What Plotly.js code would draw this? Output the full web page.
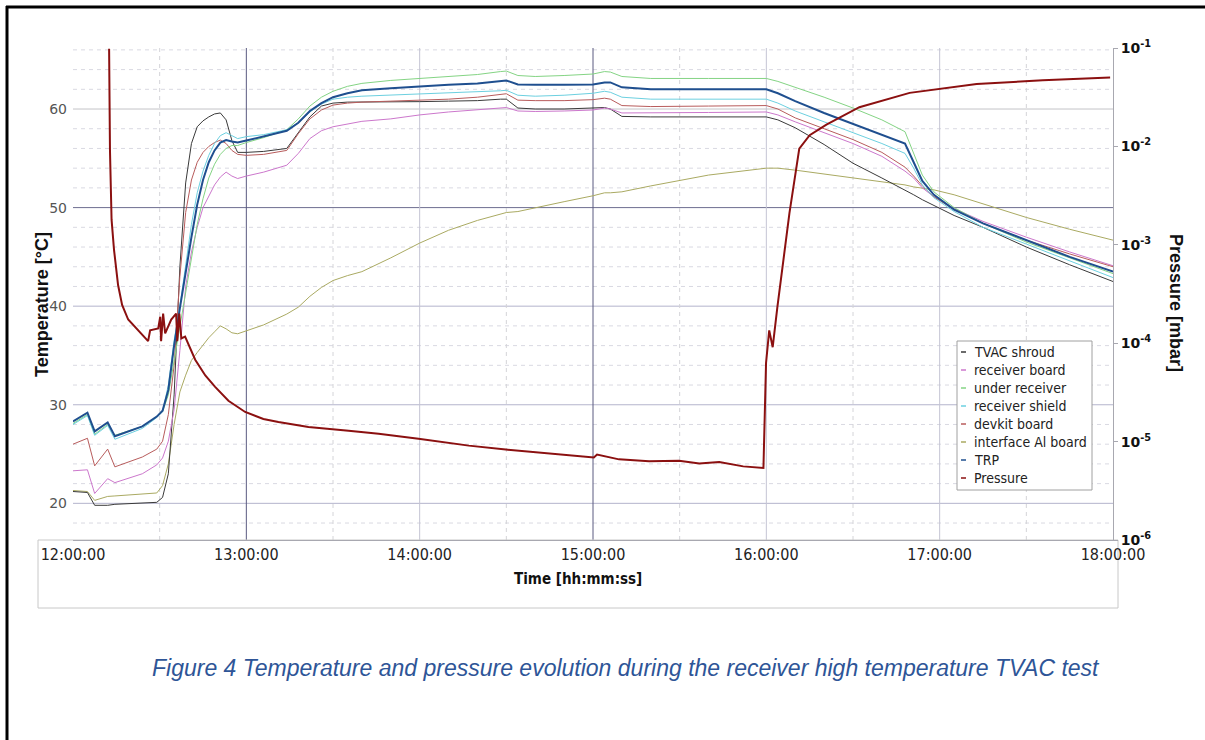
<!DOCTYPE html>
<html>
<head>
<meta charset="utf-8">
<script src="https://cdn.plot.ly/plotly-3.0.1.min.js"></script>
<style>
  html, body { margin: 0; padding: 0; background: #ffffff; }
  #chart { width: 1205px; height: 740px; }
</style>
</head>
<body>
<div id="chart"></div>
<script>
// ---------------- DATA ----------------
// time in minutes after 12:00:00
const timeMin = [0,5,7.5,12,14.5,24,29,31,33,35,37,39,41,43,45,47,49,51,53,55,57,60,66,74,78,82,86,90,95,100,110,120,130,140,148,150,154,160,170,180,184,186,190,200,220,240,244,250,260,270,280,288,291,294,298,305,315,330,345,360];

const tvacShroud = [21.2,21.1,19.8,19.8,19.9,20.0,20.1,20.6,23.0,31.0,44.0,52.5,56.5,58.2,58.8,59.2,59.5,59.6,58.9,56.8,55.6,55.6,55.7,56.0,57.6,59.2,60.3,60.6,60.7,60.7,60.75,60.75,60.8,60.85,61.0,61.0,60.1,60.0,60.0,60.1,60.15,60.0,59.25,59.2,59.2,59.2,58.9,58.1,56.4,54.5,53.0,51.8,51.3,50.8,50.2,49.2,48.0,46.0,44.2,42.5];

const receiverBoard = [23.3,23.4,21.0,22.5,22.1,23.0,23.9,24.6,26.3,29.5,35.5,42.0,45.5,48.0,50.0,51.2,52.3,53.1,53.6,53.2,52.95,53.2,53.6,54.3,55.5,57.0,57.8,58.2,58.5,58.75,59.0,59.4,59.7,59.9,60.1,60.15,59.8,59.75,59.8,59.9,60.1,60.0,59.6,59.6,59.65,59.7,59.4,58.7,57.6,56.5,55.2,53.7,53.0,52.0,51.1,49.9,48.6,47.0,45.5,44.1];

const underReceiver = [28.1,29.0,27.0,28.0,26.9,27.8,28.8,29.3,31.0,34.5,37.8,41.5,45.0,48.3,50.9,53.0,54.4,55.4,56.0,56.3,56.3,56.6,57.1,57.9,59.0,60.3,61.2,61.8,62.3,62.6,62.9,63.1,63.3,63.5,63.8,63.85,63.4,63.3,63.4,63.55,63.8,63.75,63.3,63.1,63.1,63.1,62.8,62.2,61.2,60.1,58.9,57.7,55.5,53.3,51.6,50.0,48.4,46.5,44.9,43.3];

const receiverShield = [28.0,28.9,26.9,27.9,26.5,27.6,28.7,29.3,32.0,36.5,40.0,44.0,48.3,51.5,53.7,55.3,56.5,57.3,57.6,57.3,57.0,57.2,57.4,57.9,58.6,59.7,60.5,61.0,61.2,61.3,61.4,61.5,61.6,61.7,61.85,61.9,61.4,61.3,61.4,61.6,61.8,61.7,61.2,61.0,61.0,61.0,60.6,59.8,58.7,57.6,56.5,55.5,54.0,52.3,51.0,49.6,48.0,46.3,44.6,42.9];

const devkitBoard = [26.0,26.6,23.8,25.5,23.7,24.7,25.5,26.3,29.0,34.0,43.0,49.5,52.8,54.6,55.6,56.2,56.6,56.85,56.5,55.8,55.4,55.3,55.4,55.8,57.5,59.0,59.9,60.4,60.6,60.7,60.8,60.9,61.0,61.2,61.5,61.55,60.9,60.85,60.85,60.95,61.1,61.0,60.35,60.25,60.3,60.35,60.0,59.1,58.0,56.9,55.6,54.1,53.2,52.2,51.1,49.8,48.4,46.7,45.3,44.0];

const interfaceAlBoard = [21.3,21.2,20.3,20.7,20.75,20.9,21.05,21.8,24.0,28.0,31.3,33.0,34.5,35.3,36.1,36.8,37.4,38.0,37.7,37.3,37.2,37.5,38.1,39.2,39.9,41.0,41.9,42.6,43.1,43.5,44.9,46.4,47.7,48.7,49.4,49.5,49.6,50.0,50.6,51.2,51.5,51.5,51.6,52.2,53.3,54.0,54.0,53.8,53.4,53.0,52.6,52.3,52.1,52.0,51.8,51.3,50.4,49.0,47.8,46.7];

const trp = [28.3,29.2,27.3,28.2,26.8,27.8,28.8,29.4,31.5,36.0,39.8,43.5,47.0,50.3,52.8,54.6,55.8,56.6,56.85,56.7,56.6,56.8,57.2,57.8,58.6,59.8,60.6,61.2,61.6,61.9,62.1,62.3,62.45,62.6,62.85,62.9,62.5,62.45,62.45,62.5,62.7,62.7,62.2,62.0,62.0,62.0,61.6,60.8,59.6,58.5,57.4,56.5,54.6,52.7,51.3,49.8,48.4,46.7,45.0,43.5];

// pressure [mbar]
const pressTime = [12.5,12.8,13.35,14.2,15.6,17.0,19.1,22.5,26.0,26.7,29.5,30.2,30.5,31.2,31.9,34.0,35.7,36.1,36.8,37.5,38.8,42.3,45.8,49.2,53.8,59.6,65.9,71.1,81.5,95.4,105.8,119.6,137.0,149.8,164.7,180.3,181.4,189,199.4,209.8,216.8,223.7,232,239.0,239.9,241.0,242.2,243.8,248.0,249.7,251.4,255,260.8,272.2,289.6,312.8,335.7,359.0];
const pressure = [0.098,9.1e-3,1.8e-3,8.9e-4,3.9e-4,2.45e-4,1.74e-4,1.35e-4,1.05e-4,1.35e-4,1.41e-4,1.86e-4,1.05e-4,2.0e-4,1.26e-4,1.74e-4,2.0e-4,1.05e-4,2.0e-4,1.12e-4,1.17e-4,6.8e-5,4.7e-5,3.6e-5,2.6e-5,2.0e-5,1.7e-5,1.58e-5,1.41e-5,1.29e-5,1.2e-5,1.07e-5,9.1e-6,8.3e-6,7.6e-6,6.9e-6,7.4e-6,6.6e-6,6.3e-6,6.4e-6,6.0e-6,6.2e-6,5.6e-6,5.4e-6,6.3e-5,1.35e-4,9.1e-5,2.3e-4,2.1e-3,4.6e-3,9.5e-3,1.3e-2,1.66e-2,2.5e-2,3.5e-2,4.3e-2,4.7e-2,5.0e-2];

const seriesNames = ["TVAC shroud","receiver board","under receiver","receiver shield","devkit board","interface Al board","TRP","Pressure"];
const seriesColors = ["#3a3a3a","#cc77cc","#84d484","#6cd0e0","#b85c5c","#aaaa62","#1f4f8f","#8b1010"];
const seriesWidths = [1,1,1,1,1,1,2,2];
const tempSeries = [tvacShroud, receiverBoard, underReceiver, receiverShield, devkitBoard, interfaceAlBoard, trp];

const xTickVals = [0,60,120,180,240,300,360];
const xTickText = ["12:00:00","13:00:00","14:00:00","15:00:00","16:00:00","17:00:00","18:00:00"];
const yTickVals = [20,30,40,50,60];
const pTickVals = [1e-6,1e-5,1e-4,1e-3,1e-2,1e-1];
const pTickText = ["10<sup>-6</sup>","10<sup>-5</sup>","10<sup>-4</sup>","10<sup>-3</sup>","10<sup>-2</sup>","10<sup>-1</sup>"];

// ---------------- LAYOUT HELPERS ----------------
const W = 1205, H = 740;
const L = 73, R = 1113, T = 48, B = 540;
const px = v => (v - L) / (R - L);
const py = v => (B - v) / (B - T);

const traces = [];
const order = [5, 0, 1, 4, 2, 3, 6];
order.forEach(i => {
  traces.push({
    x: timeMin, y: tempSeries[i], name: seriesNames[i], type: 'scatter', mode: 'lines',
    line: {color: seriesColors[i], width: seriesWidths[i]}, yaxis: 'y', showlegend: false, hoverinfo: 'skip'
  });
});
traces.push({
  x: pressTime, y: pressure, name: seriesNames[7], type: 'scatter', mode: 'lines',
  line: {color: seriesColors[7], width: 2}, yaxis: 'y2', showlegend: false, hoverinfo: 'skip'
});

const shapes = [];
for (let v = 18; v <= 66; v += 2) {
  if (v % 10 === 0) continue;
  shapes.push({type:'line', xref:'paper', yref:'y', x0:0, x1:1, y0:v, y1:v, layer:'below',
    line:{color:'#d9d9e2', width:1, dash:'4px,4px'}});
}
yTickVals.forEach(v => {
  shapes.push({type:'line', xref:'paper', yref:'y', x0:0, x1:1, y0:v, y1:v, layer:'below',
    line:{color: v === 50 ? '#6e6e90' : (v === 60 ? '#c4c4c8' : '#b4b4cc'), width:1}});
});
for (let m = 30; m < 360; m += 30) {
  let style;
  if (m === 60 || m === 180) style = {color:'#5a5a80', width:1};
  else if (m % 60 === 0) style = {color:'#c4c4d4', width:1};
  else style = {color:'#d4d4d8', width:1, dash:'4px,4px'};
  shapes.push({type:'line', xref:'x', yref:'paper', x0:m, x1:m, y0:0, y1:1, layer:'below', line:style});
}
shapes.push({type:'rect', xref:'paper', yref:'paper', x0:px(38), x1:px(1118), y0:py(540), y1:py(608),
  line:{color:'#c8c8c8', width:1}, fillcolor:'rgba(0,0,0,0)', layer:'below'});
// outer black frame: top and left edges
shapes.push({type:'line', xref:'paper', yref:'paper', x0:px(6), x1:px(1210), y0:py(7), y1:py(7),
  line:{color:'#000000', width:3}});
shapes.push({type:'line', xref:'paper', yref:'paper', x0:px(7), x1:px(7), y0:py(6), y1:py(745),
  line:{color:'#000000', width:3}});

const annotations = [];
shapes.push({type:'rect', xref:'paper', yref:'paper', x0:px(957), x1:px(1092), y0:py(490), y1:py(341),
  line:{color:'#a0a0a0', width:1}, fillcolor:'#ffffff'});
seriesNames.forEach((n, i) => {
  const yc = 352 + i * 18;
  shapes.push({type:'line', xref:'paper', yref:'paper', x0:px(961), x1:px(966), y0:py(yc), y1:py(yc),
    line:{color: seriesColors[i], width: 1.5}});
  annotations.push({xref:'paper', yref:'paper', x:px(972), y:py(yc), xanchor:'left', yanchor:'middle',
    text:n, showarrow:false, font:{family:'DejaVu Sans Condensed, DejaVu Sans', size:14, color:'#222222'}});
});

annotations.push({xref:'paper', yref:'paper', x:px(42), y:py(305), xanchor:'center', yanchor:'middle',
  text:'<b>Temperature [°C]</b>', textangle:-90,
  showarrow:false, font:{family:'Liberation Sans, Arial', size:18, color:'#111111'}});
annotations.push({xref:'paper', yref:'paper', x:px(1176), y:py(303), xanchor:'center', yanchor:'middle',
  text:'<b>Pressure [mbar]</b>', textangle:90,
  showarrow:false, font:{family:'Liberation Sans, Arial', size:18, color:'#111111'}});
annotations.push({xref:'paper', yref:'paper', x:px(578), y:py(579), xanchor:'center', yanchor:'middle',
  text:'<b>Time [hh:mm:ss]</b>',
  showarrow:false, font:{family:'DejaVu Sans Condensed, DejaVu Sans', size:15, color:'#111111'}});
annotations.push({xref:'paper', yref:'paper', x:px(626), y:py(668), xanchor:'center', yanchor:'middle',
  text:'<i>Figure 4 Temperature and pressure evolution during the receiver high temperature TVAC test</i>',
  showarrow:false, font:{family:'Liberation Sans, Arial', size:23, color:'#2e5597'}});

const layout = {
  width: W, height: H,
  margin: {l: L, r: W - R, t: T, b: H - B, pad: 0},
  paper_bgcolor: '#ffffff', plot_bgcolor: '#ffffff',
  showlegend: false,
  xaxis: {
    range: [0, 360], tickvals: xTickVals, ticktext: xTickText, showgrid: false, zeroline: false,
    showline: true, linecolor: '#a8a8b0', linewidth: 1, ticks: '', fixedrange: true,
    tickfont: {family: 'DejaVu Sans Condensed, DejaVu Sans', size: 16, color: '#222222'}
  },
  yaxis: {
    range: [16.28, 66.19], tickvals: yTickVals, showgrid: false, zeroline: false, showline: false,
    ticks: '', ticklabelstandoff: 5, tickfont: {family: 'DejaVu Sans', size: 14, color: '#555555'}, fixedrange: true
  },
  yaxis2: {
    type: 'log', range: [-6, -1], overlaying: 'y', side: 'right', tickvals: pTickVals, ticktext: pTickText,
    showgrid: false, zeroline: false, showline: true, linecolor: '#a8a8b0', linewidth: 1,
    ticks: 'outside', ticklen: 4, tickcolor: '#a8a8b0',
    tickfont: {family: 'DejaVu Sans', size: 14, color: '#111111', weight: 'bold'}, fixedrange: true
  },
  shapes: shapes,
  annotations: annotations
};

Plotly.newPlot('chart', traces, layout, {displayModeBar: false, staticPlot: true});
</script>
</body>
</html>
